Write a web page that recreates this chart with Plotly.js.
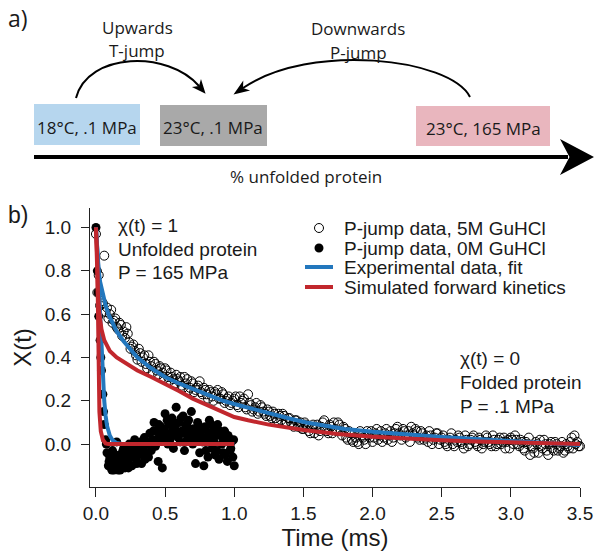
<!DOCTYPE html>
<html>
<head>
<meta charset="utf-8">
<script src="https://cdn.plot.ly/plotly-3.0.1.min.js"></script>
<style>html,body{margin:0;padding:0;background:#fff;}#chart{width:600px;height:556px;}</style>
</head>
<body>
<div id="chart"></div>
<script>
// ---- Panel b data ----
// P-jump data, 5M GuHCl (open circles), two interleaved read-outs
const t5M = [0.00,0.02,0.04,0.06,0.08,0.10,0.12,0.14,0.16,0.18,0.20,0.22,0.24,0.26,0.28,0.30,0.32,0.34,0.36,0.38,
0.40,0.42,0.44,0.46,0.48,0.50,0.52,0.54,0.56,0.58,0.60,0.62,0.64,0.66,0.68,0.70,0.72,0.74,0.76,0.78,
0.80,0.82,0.84,0.86,0.88,0.90,0.92,0.94,0.96,0.98,1.00,1.02,1.04,1.06,1.08,1.10,1.12,1.14,1.16,1.18,
1.20,1.22,1.24,1.26,1.28,1.30,1.32,1.34,1.36,1.38,1.40,1.42,1.44,1.46,1.48,1.50,1.52,1.54,1.56,1.58,
1.60,1.62,1.64,1.66,1.68,1.70,1.72,1.74,1.76,1.78,1.80,1.82,1.84,1.86,1.88,1.90,1.92,1.94,1.96,1.98,
2.00,2.02,2.04,2.06,2.08,2.10,2.12,2.14,2.16,2.18,2.20,2.22,2.24,2.26,2.28,2.30,2.32,2.34,2.36,2.38,
2.40,2.42,2.44,2.46,2.48,2.50,2.52,2.54,2.56,2.58,2.60,2.62,2.64,2.66,2.68,2.70,2.72,2.74,2.76,2.78,
2.80,2.82,2.84,2.86,2.88,2.90,2.92,2.94,2.96,2.98,3.00,3.02,3.04,3.06,3.08,3.10,3.12,3.14,3.16,3.18,
3.20,3.22,3.24,3.26,3.28,3.30,3.32,3.34,3.36,3.38,3.40,3.42,3.44,3.46,3.48,3.50];
const x5M = [0.97,0.78,0.66,0.87,0.63,0.60,0.56,0.58,0.53,0.55,0.52,0.54,0.47,0.45,0.43,0.39,0.42,0.40,0.37,0.41,
0.36,0.38,0.34,0.36,0.33,0.35,0.31,0.33,0.30,0.32,0.29,0.27,0.31,0.30,0.26,0.28,0.25,0.27,0.24,0.26,
0.23,0.25,0.22,0.24,0.25,0.21,0.23,0.20,0.22,0.19,0.21,0.18,0.22,0.20,0.17,0.23,0.18,0.16,0.19,0.15,
0.17,0.14,0.16,0.13,0.15,0.12,0.14,0.11,0.13,0.10,0.12,0.09,0.11,0.08,0.10,0.07,0.09,0.06,0.08,0.05,
0.09,0.06,0.10,0.07,0.05,0.08,0.10,0.06,0.09,0.04,0.07,0.02,0.05,0.01,0.03,0.00,0.04,0.02,0.06,0.03,
0.01,0.05,0.02,0.06,0.03,0.07,0.04,0.01,0.05,0.08,0.04,0.07,0.03,0.06,0.08,0.04,0.06,0.02,0.05,0.03,
0.01,0.04,0.02,0.05,0.00,0.03,0.01,-0.01,0.03,0.00,0.02,0.04,0.01,-0.02,0.02,0.00,0.03,0.01,-0.01,0.02,
0.00,0.04,0.01,-0.01,0.02,0.00,0.03,0.01,-0.02,0.02,0.03,0.00,0.02,-0.01,0.01,-0.03,0.00,-0.05,-0.02,0.01,
-0.04,-0.01,0.02,-0.03,0.00,-0.02,0.01,-0.03,-0.01,-0.04,0.00,-0.02,0.03,0.04,0.01,-0.01];
const t5Mb = [0.01,0.03,0.05,0.07,0.09,0.11,0.13,0.15,0.17,0.19,0.21,0.23,0.25,0.27,0.29,0.31,0.33,0.35,0.37,0.39,
0.41,0.43,0.45,0.47,0.49,0.51,0.53,0.55,0.57,0.59,0.61,0.63,0.65,0.67,0.69,0.71,0.73,0.75,0.77,0.79,
0.81,0.83,0.85,0.87,0.89,0.91,0.93,0.95,0.97,0.99,1.01,1.03,1.05,1.07,1.09,1.11,1.13,1.15,1.17,1.19,
1.21,1.23,1.25,1.27,1.29,1.31,1.33,1.35,1.37,1.39,1.41,1.43,1.45,1.47,1.49,1.51,1.53,1.55,1.57,1.59,
1.61,1.63,1.65,1.67,1.69,1.71,1.73,1.75,1.77,1.79,1.81,1.83,1.85,1.87,1.89,1.91,1.93,1.95,1.97,1.99,
2.01,2.03,2.05,2.07,2.09,2.11,2.13,2.15,2.17,2.19,2.21,2.23,2.25,2.27,2.29,2.31,2.33,2.35,2.37,2.39,
2.41,2.43,2.45,2.47,2.49,2.51,2.53,2.55,2.57,2.59,2.61,2.63,2.65,2.67,2.69,2.71,2.73,2.75,2.77,2.79,
2.81,2.83,2.85,2.87,2.89,2.91,2.93,2.95,2.97,2.99,3.01,3.03,3.05,3.07,3.09,3.11,3.13,3.15,3.17,3.19,
3.21,3.23,3.25,3.27,3.29,3.31,3.33,3.35,3.37,3.39,3.41,3.43,3.45,3.47,3.49];
const x5Mb = [0.70,0.64,0.65,0.61,0.58,0.62,0.57,0.54,0.56,0.50,0.49,0.51,0.44,0.46,0.41,0.44,0.38,0.41,0.35,0.38,
0.33,0.37,0.32,0.35,0.30,0.34,0.29,0.31,0.28,0.30,0.31,0.26,0.28,0.25,0.29,0.24,0.26,0.29,0.23,0.25,
0.21,0.24,0.20,0.23,0.21,0.24,0.19,0.21,0.18,0.20,0.22,0.17,0.19,0.21,0.16,0.19,0.15,0.17,0.14,0.18,
0.15,0.13,0.15,0.12,0.14,0.11,0.13,0.14,0.10,0.12,0.10,0.08,0.11,0.09,0.07,0.10,0.08,0.05,0.09,0.07,
0.04,0.08,0.11,0.06,0.09,0.05,0.07,0.10,0.06,0.08,0.03,0.06,0.02,0.05,0.01,0.06,0.03,0.00,0.04,0.06,
0.03,0.07,0.04,0.01,0.05,0.02,0.06,0.03,0.07,0.05,0.02,0.06,0.04,0.01,0.05,0.07,0.03,0.06,0.02,0.04,
0.06,0.00,0.03,0.05,0.02,0.04,0.00,0.02,0.05,-0.01,0.01,0.03,0.00,0.04,-0.01,0.02,0.04,0.00,0.03,-0.02,
0.01,0.03,0.00,0.04,-0.01,0.02,0.00,0.03,0.01,-0.02,0.02,0.04,0.00,0.02,-0.02,0.01,0.03,-0.01,-0.04,0.00,
0.02,-0.02,0.00,-0.05,0.01,-0.03,0.00,-0.02,0.01,-0.03,-0.01,0.01,-0.02,0.00,-0.01];

// P-jump data, 0M GuHCl (filled circles)
const t0M = [0.00,0.01,0.02,0.03,0.04,0.05,0.06,0.07,0.08,0.09,0.10,0.11,0.12,0.13,0.14,0.15,0.16,0.17,0.18,0.19,
0.20,0.21,0.22,0.23,0.24,0.25,0.26,0.27,0.28,0.29,0.30,0.31,0.32,0.33,0.34,0.35,0.36,0.37,0.38,0.39,
0.40,0.41,0.42,0.43,0.44,0.45,0.46,0.47,0.48,0.49,0.50,0.51,0.52,0.53,0.54,0.55,0.56,0.57,0.58,0.59,
0.60,0.61,0.62,0.63,0.64,0.65,0.66,0.67,0.68,0.69,0.70,0.71,0.72,0.73,0.74,0.75,0.76,0.77,0.78,0.79,
0.80,0.81,0.82,0.83,0.84,0.85,0.86,0.87,0.88,0.89,0.90,0.91,0.92,0.93,0.94,0.95,0.96,0.97,0.98,0.99,1.00];
const x0M = [1.00,0.80,0.59,0.48,0.34,0.23,0.09,0.02,-0.04,-0.10,-0.06,-0.11,-0.03,-0.12,-0.08,0.01,-0.12,-0.05,-0.10,-0.07,
-0.02,-0.11,-0.04,-0.08,0.00,-0.06,-0.10,-0.03,0.02,-0.07,-0.01,-0.05,0.01,-0.09,-0.02,0.03,-0.04,0.00,-0.06,0.05,
-0.03,0.02,0.10,-0.01,0.06,-0.08,0.04,0.08,-0.11,0.02,0.14,0.05,0.00,0.09,0.03,0.12,-0.02,0.07,0.17,0.04,
0.10,0.01,0.06,0.13,-0.03,0.08,0.02,0.11,0.05,0.15,0.00,0.07,-0.09,0.04,0.09,-0.04,0.06,0.01,-0.10,0.08,
0.03,-0.06,0.11,0.02,-0.02,0.07,-0.05,0.04,0.09,-0.07,0.05,0.00,-0.04,0.06,0.02,-0.08,0.03,-0.03,0.01,-0.06,-0.10];
const t0Mb = [0.015,0.035,0.055,0.075,0.095,0.115,0.135,0.155,0.175,0.195,0.215,0.235,0.255,0.275,0.295,0.315,0.335,0.355,0.375,0.395,
0.415,0.435,0.455,0.475,0.495,0.515,0.535,0.555,0.575,0.595,0.615,0.635,0.655,0.675,0.695,0.715,0.735,0.755,0.775,0.795,
0.815,0.835,0.855,0.875,0.895,0.915,0.935,0.955,0.975,0.995];
const x0Mb = [0.70,0.40,0.15,0.00,-0.08,-0.12,-0.05,-0.09,-0.12,-0.03,-0.08,-0.11,-0.01,-0.06,-0.09,-0.02,0.00,-0.07,-0.04,0.01,
0.06,0.02,0.09,0.03,0.07,0.11,0.02,0.06,0.09,0.03,0.12,0.05,0.09,0.03,0.07,0.02,0.10,0.04,0.07,-0.03,
0.05,0.09,0.01,-0.03,0.06,0.03,-0.05,0.04,-0.02,0.02];

// Experimental data fit (blue) for 5M and 0M
const fit5T = [0,0.005,0.01,0.02,0.03,0.05,0.07,0.09,0.12,0.15,0.2,0.25,0.3,0.4,0.5,0.6,0.7,0.8,0.92,1.0,1.1,1.25,1.4,1.52,1.65,1.8,2.0,2.25,2.5,2.75,3.0,3.25,3.5];
const fit5X = [1.0,0.93,0.88,0.80,0.75,0.69,0.64,0.60,0.555,0.52,0.475,0.435,0.40,0.35,0.31,0.28,0.255,0.23,0.20,0.185,0.168,0.14,0.118,0.10,0.085,0.07,0.057,0.044,0.033,0.024,0.016,0.007,-0.004];
const fit0T = [0,0.01,0.02,0.03,0.04,0.05,0.06,0.07,0.08,0.1,0.12,0.15,0.2,1.0];
const fit0X = [1.0,0.9,0.78,0.6,0.43,0.3,0.2,0.13,0.085,0.04,0.018,0.005,0.0,0.0];

// Simulated forward kinetics (red) for 5M and 0M
const sim5T = [0,0.003,0.008,0.015,0.025,0.04,0.06,0.08,0.1,0.15,0.2,0.25,0.3,0.4,0.5,0.6,0.7,0.8,0.9,1.0,1.1,1.25,1.5,1.75,2.0,2.25,2.5,2.75,3.0,3.25,3.5];
const sim5X = [1.0,0.9,0.78,0.68,0.6,0.53,0.48,0.455,0.43,0.40,0.38,0.36,0.34,0.31,0.28,0.245,0.21,0.18,0.15,0.125,0.11,0.09,0.065,0.047,0.034,0.025,0.018,0.012,0.008,0.004,0.001];
const sim0T = [0,0.01,0.015,0.02,0.025,0.035,0.05,0.07,0.09,1.0];
const sim0X = [1.0,0.85,0.6,0.35,0.15,0.06,0.02,0.003,0.0,0.0];

const xTicks = [0,0.5,1.0,1.5,2.0,2.5,3.0,3.5];
const yTicks = [0,0.2,0.4,0.6,0.8,1.0];

// Panel a labels
const stateLabels = ["18°C, .1 MPa", "23°C, .1 MPa", "23°C, 165 MPa"];
const legendLabels = ["P-jump data, 5M GuHCl", "P-jump data, 0M GuHCl", "Experimental data, fit", "Simulated forward kinetics"];

const BLUE = '#2377bd', RED = '#c1272d';
const FB = 'Liberation Sans, Arial, Helvetica, sans-serif';
const FA = 'Open Sans, Lato, sans-serif';

const W = 600, H = 556;
// plot area of panel b in pixels
const PL = 90, PR = 580, PT = 208, PB = 487;

const openMarker = {symbol: 'circle-open', size: 9, color: '#000', line: {width: 1, color: '#000'}};
const fillMarker = {symbol: 'circle', size: 9, color: '#000'};
const traces = [
  {x: t5M, y: x5M, type: 'scatter', mode: 'markers', name: legendLabels[0], cliponaxis: false, marker: openMarker},
  {x: t5Mb, y: x5Mb, type: 'scatter', mode: 'markers', name: legendLabels[0], cliponaxis: false, marker: openMarker},
  {x: t0M, y: x0M, type: 'scatter', mode: 'markers', name: legendLabels[1], cliponaxis: false, marker: fillMarker},
  {x: t0Mb, y: x0Mb, type: 'scatter', mode: 'markers', name: legendLabels[1], cliponaxis: false, marker: fillMarker},
  {x: fit5T, y: fit5X, type: 'scatter', mode: 'lines', name: legendLabels[2], line: {color: BLUE, width: 4}},
  {x: fit0T, y: fit0X, type: 'scatter', mode: 'lines', name: legendLabels[2], line: {color: BLUE, width: 4}},
  {x: sim5T, y: sim5X, type: 'scatter', mode: 'lines', name: legendLabels[3], line: {color: RED, width: 4}},
  {x: sim0T, y: sim0X, type: 'scatter', mode: 'lines', name: legendLabels[3], line: {color: RED, width: 4}},
  {x: [], y: [], xaxis: 'x2', yaxis: 'y2', type: 'scatter', showlegend: false}
];

function head(tx, ty, dx, dy, L, Wd) {
  const n = Math.hypot(dx, dy); dx /= n; dy /= n;
  const px = -dy, py = dx;
  const bx = tx - L * dx, by = ty - L * dy;
  const nx = tx - 0.72 * L * dx, ny = ty - 0.72 * L * dy;
  return `M${tx},${ty} L${bx + Wd * px},${by + Wd * py} L${nx},${ny} L${bx - Wd * px},${by - Wd * py} Z`;
}
function arcWithHead(p0, c1, c2, e, L, Wd) {
  let dx = e[0] - c2[0], dy = e[1] - c2[1];
  const n = Math.hypot(dx, dy); dx /= n; dy /= n;
  const tx = e[0] + 0.72 * L * dx, ty = e[1] + 0.72 * L * dy;
  return [
    {type: 'path', xref: 'x2', yref: 'y2', path: `M${p0[0]},${p0[1]} C${c1[0]},${c1[1]} ${c2[0]},${c2[1]} ${e[0]},${e[1]}`,
     line: {color: '#000', width: 2}},
    {type: 'path', xref: 'x2', yref: 'y2', path: head(tx, ty, dx, dy, L, Wd), fillcolor: '#000', line: {width: 0}}
  ];
}

const shapes = [
  {type: 'rect', xref: 'x2', yref: 'y2', x0: 34, x1: 140, y0: 104, y1: 145, fillcolor: '#b6d6ee', line: {width: 0}, layer: 'below'},
  {type: 'rect', xref: 'x2', yref: 'y2', x0: 160, x1: 267, y0: 105, y1: 146, fillcolor: '#a9a9a9', line: {width: 0}, layer: 'below'},
  {type: 'rect', xref: 'x2', yref: 'y2', x0: 416, x1: 550, y0: 106, y1: 146, fillcolor: '#e9b6be', line: {width: 0}, layer: 'below'},
  {type: 'line', xref: 'x2', yref: 'y2', x0: 34, x1: 568, y0: 157, y1: 157, line: {color: '#000', width: 4}},
  {type: 'path', xref: 'x2', yref: 'y2', path: head(594, 157, 1, 0, 34, 18), fillcolor: '#000', line: {width: 0}},
  ...arcWithHead([76, 98], [88, 52], [168, 50], [199, 86], 14, 6),
  ...arcWithHead([470, 97], [450, 58], [310, 42], [243, 88], 16, 6),
  // legend keys
  {type: 'circle', xref: 'x2', yref: 'y2', x0: 314.5, x1: 323.5, y0: 223.5, y1: 232.5, fillcolor: '#fff', line: {color: '#000', width: 1}},
  {type: 'circle', xref: 'x2', yref: 'y2', x0: 314.5, x1: 323.5, y0: 243.5, y1: 252.5, fillcolor: '#000', line: {color: '#000', width: 0}},
  {type: 'line', xref: 'x2', yref: 'y2', x0: 305, x1: 333, y0: 267, y1: 267, line: {color: BLUE, width: 4}},
  {type: 'line', xref: 'x2', yref: 'y2', x0: 305, x1: 333, y0: 287, y1: 287, line: {color: RED, width: 4}}
];

function txt(text, x, y, size, family, xanchor) {
  return {text: text, xref: 'x2', yref: 'y2', x: x, y: y, showarrow: false, xanchor: xanchor || 'center', yanchor: 'middle',
          font: {size: size, family: family, color: '#1a1a1a'}};
}
const annotations = [
  txt('a)', 6, 18, 23, FA, 'left'),
  txt('Upwards', 137, 27, 17, FA),
  txt('T-jump', 137, 50, 17, FA),
  txt('Downwards', 358, 28, 17, FA),
  txt('P-jump', 358, 52, 17, FA),
  txt(stateLabels[0], 87, 127, 17, FA),
  txt(stateLabels[1], 213, 127, 17, FA),
  txt(stateLabels[2], 483, 128, 17, FA),
  txt('% unfolded protein', 306, 176, 17, FA),
  txt('b)', 6, 215, 23, FB, 'left'),
  txt('χ(t) = 1', 116, 225, 19, FB, 'left'),
  txt('Unfolded protein', 116, 249, 19, FB, 'left'),
  txt('P = 165 MPa', 116, 272, 19, FB, 'left'),
  txt('χ(t) = 0', 458, 358, 19, FB, 'left'),
  txt('Folded protein', 458, 382, 19, FB, 'left'),
  txt('P = .1 MPa', 458, 406, 19, FB, 'left'),
  txt(legendLabels[0], 342, 228, 19, FB, 'left'),
  txt(legendLabels[1], 342, 248, 19, FB, 'left'),
  txt(legendLabels[2], 342, 267, 19, FB, 'left'),
  txt(legendLabels[3], 342, 287, 19, FB, 'left')
];

const layout = {
  width: W, height: H, autosize: false,
  margin: {l: 0, r: 0, t: 0, b: 0},
  paper_bgcolor: '#fff', plot_bgcolor: 'rgba(0,0,0,0)',
  showlegend: false,
  font: {family: FB, color: '#1a1a1a'},
  xaxis: {
    domain: [PL / W, PR / W], anchor: 'y',
    range: [-0.043, 3.5], showgrid: false, zeroline: false,
    showline: true, linecolor: '#222', linewidth: 1,
    ticks: 'outside', ticklen: 9, tickwidth: 1, tickcolor: '#222',
    tickvals: xTicks, tickformat: '.1f', ticklabelstandoff: 0,
    tickfont: {size: 19, family: FB, color: '#1a1a1a'},
    title: {text: 'Time (ms)', font: {size: 24, family: FB, color: '#1a1a1a'}, standoff: 0}
  },
  yaxis: {
    domain: [1 - PB / H, 1 - PT / H], anchor: 'x',
    range: [-0.198, 1.09], showgrid: false, zeroline: false,
    showline: true, linecolor: '#222', linewidth: 1,
    ticks: 'outside', ticklen: 8, tickwidth: 1, tickcolor: '#222',
    tickvals: yTicks, tickformat: '.1f', ticklabelstandoff: 6,
    tickfont: {size: 19, family: FB, color: '#1a1a1a'},
    title: {text: 'X(t)', font: {size: 24, family: FB, color: '#1a1a1a'}, standoff: 6}
  },
  xaxis2: {domain: [0, 1], range: [0, W], anchor: 'y2', visible: false, fixedrange: true},
  yaxis2: {domain: [0, 1], range: [H, 0], anchor: 'x2', visible: false, fixedrange: true},
  shapes: shapes,
  annotations: annotations
};

Plotly.newPlot('chart', traces, layout, {staticPlot: true, displayModeBar: false});
</script>
</body>
</html>
